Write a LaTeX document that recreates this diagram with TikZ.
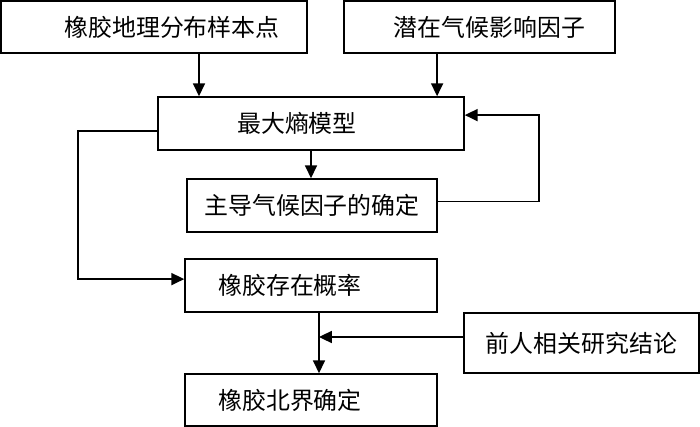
\documentclass[tikz,border=0pt]{standalone}
\usepackage{fontspec}
\newfontfamily\cjk{Noto Sans CJK SC}
\usetikzlibrary{arrows.meta}
\begin{document}
\begin{tikzpicture}[x=0.25mm,y=-0.25mm,line join=miter,
  box/.style={draw,line width=0.4mm,inner sep=0pt,font=\cjk\fontsize{17pt}{20pt}\selectfont},
  arr/.style={line width=0.4mm,-{Triangle[length=3.2mm,width=3mm]}}]
\useasboundingbox (0,0) rectangle (700,427);
\node[box,minimum width=76.5mm,minimum height=13mm] (sample) at (154,27) {\hspace*{9mm}橡胶地理分布样本点};
\node[box,minimum width=67.75mm,minimum height=13mm] (factor) at (479.5,27) {\hspace*{5mm}潜在气候影响因子};
\node[box,minimum width=76.5mm,minimum height=13.25mm] (maxent) at (311,123.5) {\hspace*{-7mm}最大熵模型};
\node[box,minimum width=62.5mm,minimum height=13.25mm] (main) at (312,205.5) {主导气候因子的确定};
\node[box,minimum width=63mm,minimum height=13.25mm] (prob) at (311,285.5) {\hspace*{-10.5mm}橡胶存在概率};
\node[box,minimum width=58.75mm,minimum height=15mm] (prev) at (581.5,343) {前人相关研究结论};
\node[box,minimum width=63mm,minimum height=13mm] (north) at (311,400) {\hspace*{-10.5mm}橡胶北界确定};
\coordinate (m) at ([xshift=2mm]prob.south);
\draw[arr] ([xshift=11.25mm]sample.south) -- ([xshift=11.25mm]sample.south |- maxent.north);
\draw[arr] ([xshift=-10.6mm]factor.south) -- ([xshift=-10.6mm]factor.south |- maxent.north);
\draw[arr] (maxent.south) -- (maxent.south |- main.north);
\draw[arr] ([yshift=1mm]main.east) -- ++(101,0) |- ([yshift=2.1mm]maxent.east);
\draw[arr] ([yshift=-1.9mm]maxent.west) -- ++(-79,0) |- ([yshift=1.6mm]prob.west);
\draw[arr] (m) -- (m |- north.north);
\draw[arr] ([yshift=1.5mm]prev.west) -- ([yshift=1.5mm]prev.west -| m);
\end{tikzpicture}
\end{document}
